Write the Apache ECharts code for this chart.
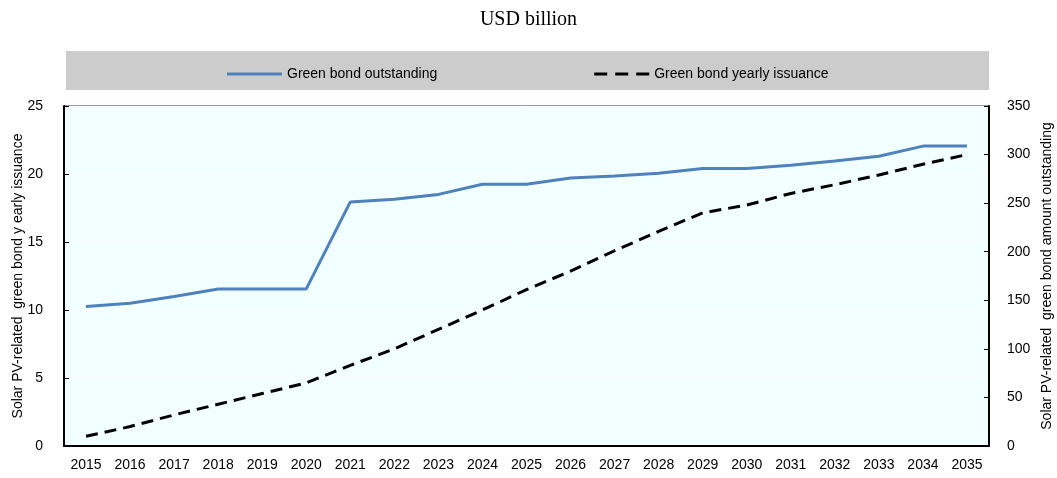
<!DOCTYPE html>
<html>
<head>
<meta charset="utf-8">
<script src="https://cdn.jsdelivr.net/npm/echarts@6/dist/echarts.min.js"></script>
<style>
  html, body { margin: 0; padding: 0; background: #ffffff; }
  #chart { width: 1057px; height: 478px; }
</style>
</head>
<body>
<div id="chart"></div>
<script>
// Years on the category axis
const years = ['2015','2016','2017','2018','2019','2020','2021','2022','2023','2024','2025',
               '2026','2027','2028','2029','2030','2031','2032','2033','2034','2035'];

// Solid blue series, read against the left axis (USD billion)
const outstanding = [10.25, 10.5, 11.0, 11.55, 11.55, 11.55, 17.95, 18.15, 18.5, 19.25, 19.25,
                     19.7, 19.85, 20.05, 20.4, 20.4, 20.65, 20.95, 21.3, 22.05, 22.05];

// Dashed black series, read against the right axis (USD billion)
const issuance = [10, 20, 32, 43, 54, 65, 83, 100, 120, 140, 161,
                  180, 201, 221, 240, 248, 260, 269, 279, 290, 300];

// Axis ranges
const leftAxis = { min: 0, max: 25, interval: 5 };
const rightAxis = { min: 0, max: 350, interval: 50 };

// Legend keys: a plain stroke and a three-dash stroke
const solidKey = 'path://M0,0 L55,0 L55,3 L0,3 Z';
const dashedKey = 'path://M0,0 L13,0 L13,3 L0,3 Z M21,0 L34,0 L34,3 L21,3 Z M42,0 L55,0 L55,3 L42,3 Z';

const chart = echarts.init(document.getElementById('chart'), null, { renderer: 'canvas' });

const labelFont = { fontFamily: 'Liberation Sans, Arial, sans-serif', fontSize: 14, color: '#000' };

chart.setOption({
  animation: false,
  title: {
    text: 'USD billion',
    left: 'center',
    top: 5,
    textStyle: { fontFamily: 'Liberation Serif, Times New Roman, serif', fontSize: 20, fontWeight: 'normal', color: '#000' }
  },
  graphic: [{
    type: 'rect',
    left: 66, top: 51,
    shape: { width: 923, height: 39 },
    style: { fill: '#cccccc' },
    z: -10
  }],
  legend: {
    left: 222,
    top: 62,
    width: 800,
    itemWidth: 55,
    itemHeight: 3,
    itemGap: 157,
    z: 10,
    textStyle: { fontFamily: 'Liberation Sans, Arial, sans-serif', fontSize: 14, color: '#000' },
    data: [
      { name: 'Green bond outstanding', icon: solidKey, itemStyle: { color: '#4f81bd' } },
      { name: 'Green bond yearly issuance', icon: dashedKey, itemStyle: { color: '#000' } }
    ]
  },
  grid: {
    left: 64, right: 68, top: 106, bottom: 32,
    outerBoundsMode: 'none',
    containLabel: false,
    show: true,
    backgroundColor: '#f2ffff',
    borderColor: '#333',
    borderWidth: 1
  },
  xAxis: {
    type: 'category',
    data: years,
    boundaryGap: true,
    axisLine: { lineStyle: { color: '#000', width: 2 } },
    axisTick: { inside: true, length: 5, lineStyle: { color: '#000', width: 1 } },
    axisLabel: Object.assign({ margin: 12 }, labelFont),
    splitLine: { show: false }
  },
  yAxis: [
    {
      type: 'value',
      min: leftAxis.min, max: leftAxis.max, interval: leftAxis.interval,
      position: 'left',
      name: 'Solar PV-related  green bond y early issuance',
      nameLocation: 'middle',
      nameGap: 39,
      nameMoveOverlap: false,
      nameTextStyle: { fontFamily: 'Liberation Sans, Arial, sans-serif', fontSize: 14, color: '#000' },
      axisLine: { show: true, lineStyle: { color: '#000', width: 2 } },
      axisTick: { show: true, inside: true, length: 5, lineStyle: { color: '#000' } },
      axisLabel: Object.assign({ margin: 21 }, labelFont),
      splitLine: { show: true, lineStyle: { color: '#ffffff', width: 1 } }
    },
    {
      type: 'value',
      min: rightAxis.min, max: rightAxis.max, interval: rightAxis.interval,
      position: 'right',
      name: 'Solar PV-related  green bond amount outstanding',
      nameLocation: 'middle',
      nameGap: 51,
      nameRotate: 90,
      nameMoveOverlap: false,
      nameTextStyle: { fontFamily: 'Liberation Sans, Arial, sans-serif', fontSize: 14, color: '#000' },
      axisLine: { show: true, lineStyle: { color: '#000', width: 2 } },
      axisTick: { show: true, inside: true, length: 5, lineStyle: { color: '#000' } },
      axisLabel: Object.assign({ margin: 18 }, labelFont),
      splitLine: { show: false }
    }
  ],
  series: [
    {
      name: 'Green bond outstanding',
      type: 'line',
      yAxisIndex: 0,
      data: outstanding,
      symbol: 'none',
      lineStyle: { color: '#4f81bd', width: 3 },
      itemStyle: { color: '#4f81bd' }
    },
    {
      name: 'Green bond yearly issuance',
      type: 'line',
      yAxisIndex: 1,
      data: issuance,
      symbol: 'none',
      lineStyle: { color: '#000', width: 3, type: [12, 7] },
      itemStyle: { color: '#000' }
    }
  ]
});
</script>
</body>
</html>
